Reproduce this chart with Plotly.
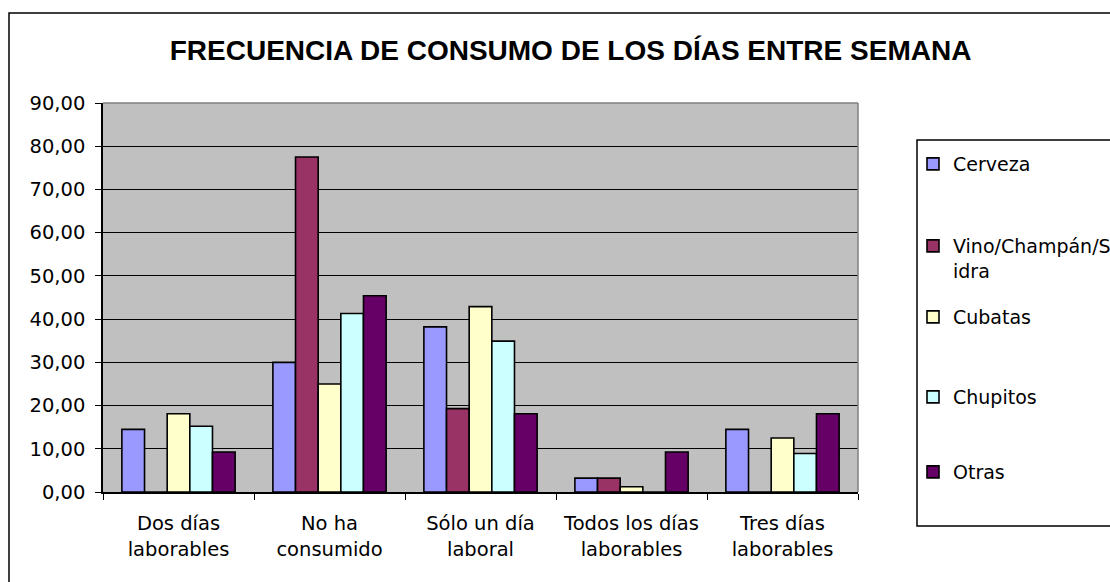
import plotly.graph_objects as go

categories = ["Dos días<br>laborables", "No ha<br>consumido", "Sólo un día<br>laboral",
              "Todos los días<br>laborables", "Tres días<br>laborables"]
series_names = ["Cerveza", "Vino/Champán/S<br>idra", "Cubatas", "Chupitos", "Otras"]
cerveza = [14.5, 30.0, 38.2, 3.2, 14.5]
vino = [0.0, 77.5, 19.3, 3.2, 0.0]
cubatas = [18.1, 25.0, 42.9, 1.2, 12.5]
chupitos = [15.2, 41.3, 34.9, 0.0, 8.9]
otras = [9.25, 45.4, 18.1, 9.25, 18.1]
colors = ["#9999FF", "#993366", "#FFFFCC", "#CCFFFF", "#660066"]

FONT = "DejaVu Sans, Liberation Sans, Arial, sans-serif"
TFONT = "Liberation Sans, Arial, sans-serif"

# plot-area pixel geometry
L, R, T, B = 103, 858, 103, 492
PW, PH = R - L, B - T


def px_x(x):
    return (x - L) / PW


def px_y(y):
    return (B - y) / PH


legend_names = ["legend", "legend2", "legend3", "legend4", "legend5"]
legend_text_y = [164, 258.5, 317, 397, 472]

fig = go.Figure()
for name, vals, col, lg in zip(series_names, [cerveza, vino, cubatas, chupitos, otras], colors, legend_names):
    fig.add_trace(go.Bar(
        x=categories, y=vals, name=name, legend=lg,
        marker=dict(color=col, line=dict(color="black", width=1.6)),
    ))

legend_common = dict(font=dict(family=FONT, size=19, color="black"),
                     bgcolor="rgba(0,0,0,0)", borderwidth=0, itemwidth=30,
                     xanchor="left", yanchor="middle", valign="top")
layout_legends = {}
for lg, ty in zip(legend_names, legend_text_y):
    layout_legends[lg] = dict(x=px_x(913), y=px_y(ty), **legend_common)

fig.update_layout(
    width=1110, height=582,
    margin=dict(l=L, r=1110 - R, t=T, b=582 - B, autoexpand=False),
    paper_bgcolor="white", plot_bgcolor="#C0C0C0",
    separators=",.",
    font=dict(family=FONT, size=19.5, color="black"),
    barmode="group", bargap=0.25, bargroupgap=0,
    title=dict(text="<b>FRECUENCIA DE CONSUMO DE LOS DÍAS ENTRE SEMANA</b>",
               x=0.514, xanchor="center", y=0.914, yanchor="middle",
               font=dict(family=TFONT, size=28, color="black")),
    showlegend=True,
    **layout_legends,
)
fig.update_xaxes(showline=True, linecolor="black", linewidth=1.5,
                 ticks="outside", tickson="boundaries", ticklen=6, tickcolor="black",
                 showgrid=False, ticklabelstandoff=13)
fig.update_yaxes(range=[0, 90], dtick=10, tickformat=".2f",
                 showline=True, linecolor="black", linewidth=1.5,
                 ticks="outside", ticklen=6, tickcolor="black",
                 showgrid=True, gridcolor="black", gridwidth=1, zeroline=False,
                 ticklabelstandoff=6)

# plot area border (top/right in grey)
fig.add_shape(type="line", xref="paper", yref="paper", x0=0, x1=1, y0=1, y1=1,
              line=dict(color="#808080", width=1.5))
fig.add_shape(type="line", xref="paper", yref="paper", x0=1, x1=1, y0=0, y1=1,
              line=dict(color="#808080", width=1.5))
# legend box
fig.add_shape(type="rect", xref="paper", yref="paper", x0=px_x(917), x1=px_x(1300),
              y0=px_y(526), y1=px_y(140),
              line=dict(color="black", width=1.5), fillcolor="rgba(0,0,0,0)")
# chart outer border
fig.add_shape(type="rect", xref="paper", yref="paper",
              x0=px_x(9), x1=px_x(1300), y0=px_y(700), y1=px_y(13),
              line=dict(color="black", width=1.5), fillcolor="rgba(0,0,0,0)")

fig.write_html("out.html", config={"displayModeBar": False},
               post_script="document.body.style.margin='0px';document.body.style.overflow='hidden';")
